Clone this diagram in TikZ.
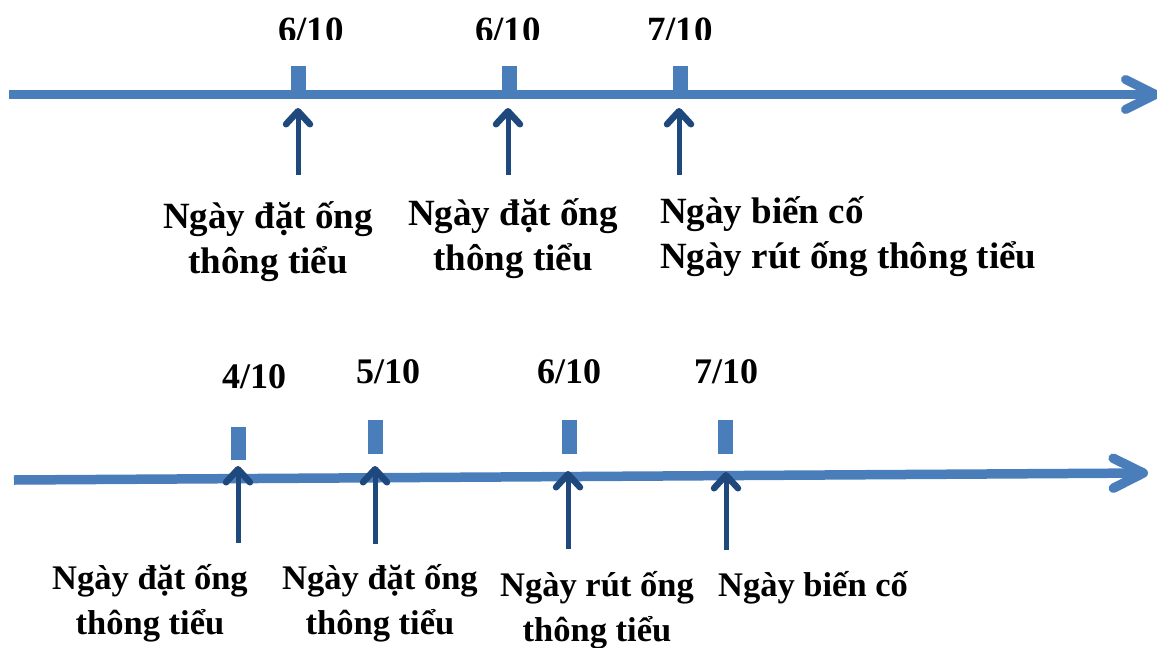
\documentclass[tikz,border=0pt]{standalone}
\usepackage{fontspec}
\setmainfont{Liberation Serif}
\usetikzlibrary{arrows.meta}
\definecolor{axisblue}{HTML}{4A7EBB}
\definecolor{arrowblue}{HTML}{1F497D}
\begin{document}
\begin{tikzpicture}[x=1pt,y=-1pt,
  axisline/.style={draw=axisblue, line width=9pt, -{Straight Barb[length=30pt,width=30pt,round]}},
  tickbox/.style={fill=axisblue, draw=none, inner sep=0pt, minimum width=15pt},
  uparrow/.style={draw=arrowblue, line width=5pt, -{Straight Barb[length=13pt,width=24pt,round,line width=6.5pt]}},
  toplab/.style={inner sep=0pt, font={\fontsize{37}{45}\selectfont\bfseries}},
  botlab/.style={inner sep=0pt, font={\fontsize{34.5}{45}\selectfont\bfseries}},
  topdate/.style={inner sep=0pt, anchor=base, font={\fontsize{37}{44}\selectfont\bfseries}},
  botdate/.style={inner sep=0pt, anchor=base, font={\fontsize{36}{44}\selectfont\bfseries}}
]
\useasboundingbox (0,0) rectangle (1157,648);

% ---------- top timeline ----------
\coordinate (ta0) at (9,94.5);
\coordinate (ta1) at (1160,94.5);
\draw[axisline] (ta0) -- (ta1);

\node[tickbox, minimum height=24pt] (tt1) at (298.5,78) {};
\node[tickbox, minimum height=24pt] (tt2) at (509,78) {};
\node[tickbox, minimum height=24pt] (tt3) at (680,78) {};

\begin{scope}
  \clip (0,0) rectangle (1157,39);
  \node[topdate] (td1) at (311,42) {6/10};
  \node[topdate] (td2) at (508,42) {6/10};
  \node[topdate] (td3) at (680,42) {7/10};
\end{scope}

\coordinate (tf1) at (298,175); \coordinate (th1) at (298,108);
\coordinate (tf2) at (508,175); \coordinate (th2) at (508,108);
\coordinate (tf3) at (679,175); \coordinate (th3) at (679,108);
\draw[uparrow] (tf1) -- (th1);
\draw[uparrow] (tf2) -- (th2);
\draw[uparrow] (tf3) -- (th3);

% multi-line nodes: base anchor = baseline of the last line
\node[toplab, align=center, anchor=base] (tl1) at (268,273) {Ngày đặt ống\\thông tiểu};
\node[toplab, align=center, anchor=base] (tl2) at (513,270) {Ngày đặt ống\\thông tiểu};
\node[toplab, align=left, anchor=base west] (tl3) at (660,268) {Ngày biến cố\\Ngày rút ống thông tiểu};

% ---------- bottom timeline ----------
\coordinate (ba0) at (14,480);
\coordinate (ba1) at (1148,473);
\draw[axisline, line width=9.5pt] (ba0) -- (ba1);

\node[tickbox, minimum height=33pt] (bt1) at (238.5,443.5) {};
\node[tickbox, minimum height=34pt] (bt2) at (375,437) {};
\node[tickbox, minimum height=34pt] (bt3) at (569,437) {};
\node[tickbox, minimum height=34pt] (bt4) at (725.5,437) {};

\node[botdate] (bd1) at (254,388) {4/10};
\node[botdate] (bd2) at (388,383) {5/10};
\node[botdate] (bd3) at (569,383) {6/10};
\node[botdate] (bd4) at (726,383) {7/10};

\coordinate (bf1) at (238,543); \coordinate (bh1) at (238,466);
\coordinate (bf2) at (375,544); \coordinate (bh2) at (375,466);
\coordinate (bf3) at (568,549); \coordinate (bh3) at (568,471);
\coordinate (bf4) at (726,550); \coordinate (bh4) at (726,472);
\draw[uparrow] (bf1) -- (bh1);
\draw[uparrow] (bf2) -- (bh2);
\draw[uparrow] (bf3) -- (bh3);
\draw[uparrow] (bf4) -- (bh4);

\node[botlab, align=center, anchor=base] (bl1) at (150,634) {Ngày đặt ống\\thông tiểu};
\node[botlab, align=center, anchor=base] (bl2) at (380,634) {Ngày đặt ống\\thông tiểu};
\node[botlab, align=center, anchor=base] (bl3) at (597,641) {Ngày rút ống\\thông tiểu};
\node[botlab, anchor=base] (bl4) at (813,596) {Ngày biến cố};
\end{tikzpicture}
\end{document}
